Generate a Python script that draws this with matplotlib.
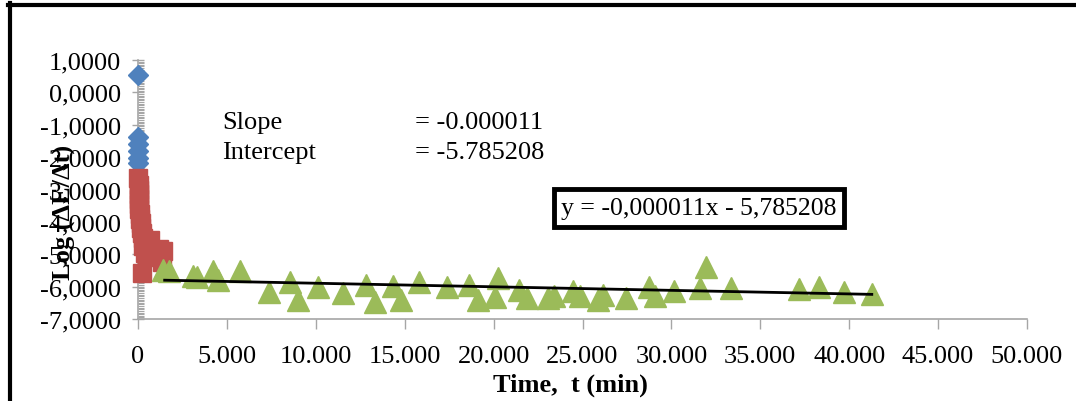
import matplotlib
matplotlib.use("Agg")
import matplotlib.pyplot as plt
from matplotlib.ticker import MultipleLocator, FuncFormatter
from matplotlib.lines import Line2D
import numpy as np

# ---- data ----
blue_x = [0, 0, 0, 0, 0, 0]
blue_y = [0.55, -1.37, -1.60, -1.81, -2.02, -2.18]

red_x = [20, 30, 40, 50, 60, 70, 80, 100, 120, 150, 180, 220, 300, 450, 650,
         300, 400, 1200, 1400, 1350, 500, 250]
red_y = [-2.65, -2.85, -3.00, -3.15, -3.30, -3.45, -3.60, -3.75, -3.90, -4.05,
         -4.20, -4.35, -4.50, -4.60, -4.55, -4.75, -4.95, -4.85, -4.90, -5.25,
         -5.10, -5.57]

green_x = [1425, 1760, 3110, 3300, 4235, 4480, 5735, 7385, 8550, 8980, 10105,
           11510, 12805, 13330, 14360, 14790, 15800, 17360, 18640, 19105,
           20265, 20080, 21445, 21860, 23040, 23400, 24485, 24860, 25890,
           26170, 27450, 28740, 29080, 30150, 31950, 31610, 33350, 37190,
           38320, 39710, 41270]
green_y = [-5.48, -5.53, -5.67, -5.70, -5.53, -5.79, -5.53, -6.17, -5.86,
           -6.41, -6.00, -6.20, -5.95, -6.46, -5.97, -6.41, -5.87, -6.02,
           -5.95, -6.41, -5.72, -6.31, -6.10, -6.34, -6.34, -6.29, -6.15,
           -6.29, -6.41, -6.26, -6.36, -6.00, -6.28, -6.15, -5.38, -6.05,
           -6.03, -6.07, -6.00, -6.17, -6.22]

slope = -0.000011
intercept = -5.785208
fit_x = [1500, 41270]

x_ticks = [0, 5000, 10000, 15000, 20000, 25000, 30000, 35000, 40000, 45000, 50000]
y_ticks = [1, 0, -1, -2, -3, -4, -5, -6, -7]

# ---- plot ----
plt.rcParams['font.family'] = ['Liberation Serif', 'DejaVu Serif']
fig = plt.figure(figsize=(10.76, 4.02), dpi=100)
ax = fig.add_axes([138/1076, 1-320/402, 889/1076, 259/402])

ax.plot(blue_x, blue_y, linestyle='none', marker='D', markersize=10.5,
        color='#4F81BD', clip_on=False, zorder=3)
ax.plot(red_x, red_y, linestyle='none', marker='s', markersize=13.5,
        color='#C0504D', clip_on=False, zorder=3)
ax.plot(green_x, green_y, linestyle='none', marker='^', markersize=16,
        color='#9BBB59', clip_on=False, zorder=3)
fx = np.array(fit_x, dtype=float)
ax.plot(fx, slope*fx + intercept, color='black', lw=2, zorder=4)

ax.set_xlim(0, 50000)
ax.set_ylim(-7, 1)
ax.set_xticks(x_ticks)
ax.set_yticks(y_ticks)
ax.yaxis.set_minor_locator(MultipleLocator(0.05))
ax.xaxis.set_major_formatter(FuncFormatter(lambda v, p: f"{int(v):,}".replace(',', '.')))
ax.yaxis.set_major_formatter(FuncFormatter(lambda v, p: f"{v:.4f}".replace('.', ',')))

for s in ['top', 'right']:
    ax.spines[s].set_visible(False)
for s in ['left', 'bottom']:
    ax.spines[s].set_color('#A6A6A6')
    ax.spines[s].set_linewidth(1.2)

ax.tick_params(axis='y', which='major', direction='inout', length=9, width=1,
               color='#A6A6A6', labelsize=19, pad=8)
ax.tick_params(axis='y', which='minor', direction='in', length=4, width=0.8,
               color='#A6A6A6')
ax.tick_params(axis='x', which='major', direction='out', length=7, width=1,
               color='#A6A6A6', labelsize=19, pad=12)

ax.set_xlabel('Time,  t (min)', fontsize=19, fontweight='bold')
ax.xaxis.set_label_coords((570-138)/889, -0.205)
ax.set_ylabel('Log (ΔE/Δt)', fontsize=19, fontweight='bold')
ax.yaxis.set_label_coords((76-138)/889, (320-212)/259)

fig.text(222/1076, 1-123/402, 'Slope', fontsize=19, va='center', ha='left')
fig.text(415/1076, 1-123/402, '= -0.000011', fontsize=19, va='center', ha='left')
fig.text(222/1076, 1-153/402, 'Intercept', fontsize=19, va='center', ha='left')
fig.text(415/1076, 1-153/402, '= -5.785208', fontsize=19, va='center', ha='left')

fig.text(699/1076, 1-209/402, 'y = -0,000011x - 5,785208', fontsize=18.5,
         va='center', ha='center',
         bbox=dict(boxstyle='square,pad=0.3', fc='white', ec='black', lw=3.5))

# outer frame (left and top)
fig.add_artist(Line2D([9.5/1076, 9.5/1076], [0, 1-4/402], color='black', lw=3,
                      transform=fig.transFigure))
fig.add_artist(Line2D([8/1076, 1], [1-6/402, 1-6/402], color='black', lw=3,
                      transform=fig.transFigure))

fig.savefig('out.png', dpi=100)
